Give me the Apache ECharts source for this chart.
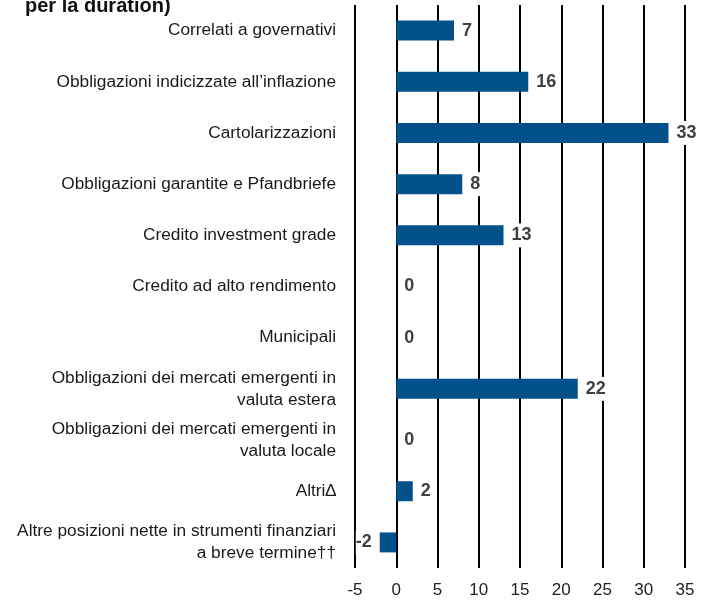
<!DOCTYPE html>
<html>
<head>
<meta charset="utf-8">
<script src="https://cdn.jsdelivr.net/npm/echarts@6/dist/echarts.min.js"></script>
<style>
  html, body { margin: 0; padding: 0; background: #fff; }
  #main { width: 713px; height: 606px; }
</style>
</head>
<body>
<div id="main"></div>
<script>
var categories = [
  'Correlati a governativi',
  'Obbligazioni indicizzate all\u2019inflazione',
  'Cartolarizzazioni',
  'Obbligazioni garantite e Pfandbriefe',
  'Credito investment grade',
  'Credito ad alto rendimento',
  'Municipali',
  'Obbligazioni dei mercati emergenti in\nvaluta estera',
  'Obbligazioni dei mercati emergenti in\nvaluta locale',
  'Altri\u2206',
  'Altre posizioni nette in strumenti finanziari\na breve termine\u2020\u2020'
];
var values = [7, 16, 33, 8, 13, 0, 0, 22, 0, 2, -2];
var xTicks = [-5, 35, 5]; // min, max, step

var font = '"Liberation Sans Narrow", "Arial Narrow", "Liberation Sans", sans-serif';

var chart = echarts.init(document.getElementById('main'));

var option = {
  animation: false,
  title: {
    text: 'per la duration)',
    left: 20,
    top: -9,
    textStyle: { fontFamily: 'Liberation Sans, Arial, sans-serif', fontWeight: 'bold', fontSize: 20, color: '#111' }
  },
  grid: { left: 355, right: 28, top: 5, bottom: 38 },
  xAxis: {
    type: 'value',
    min: xTicks[0],
    max: xTicks[1],
    interval: xTicks[2],
    axisLine: { show: false },
    axisTick: { show: false },
    splitLine: { show: true, lineStyle: { color: '#000', width: 2 } },
    axisLabel: { fontFamily: font, fontSize: 17, color: '#222', margin: 14 }
  },
  yAxis: {
    type: 'category',
    inverse: true,
    data: categories,
    axisLine: { show: false },
    axisTick: { show: false },
    axisLabel: { fontFamily: font, fontSize: 17.3, color: '#1a1a1a', margin: 19, lineHeight: 22, align: 'right' }
  },
  series: [{
    type: 'bar',
    barWidth: 20,
    itemStyle: { color: '#03518a' },
    label: {
      show: true,
      fontFamily: font,
      fontWeight: 'bold',
      fontSize: 18,
      color: '#404040',
      backgroundColor: '#fff',
      padding: [3, 0],
      distance: 8
    },
    data: values.map(function (v) {
      return { value: v, label: { position: v < 0 ? 'left' : 'right' } };
    })
  }]
};

chart.setOption(option);
</script>
</body>
</html>
